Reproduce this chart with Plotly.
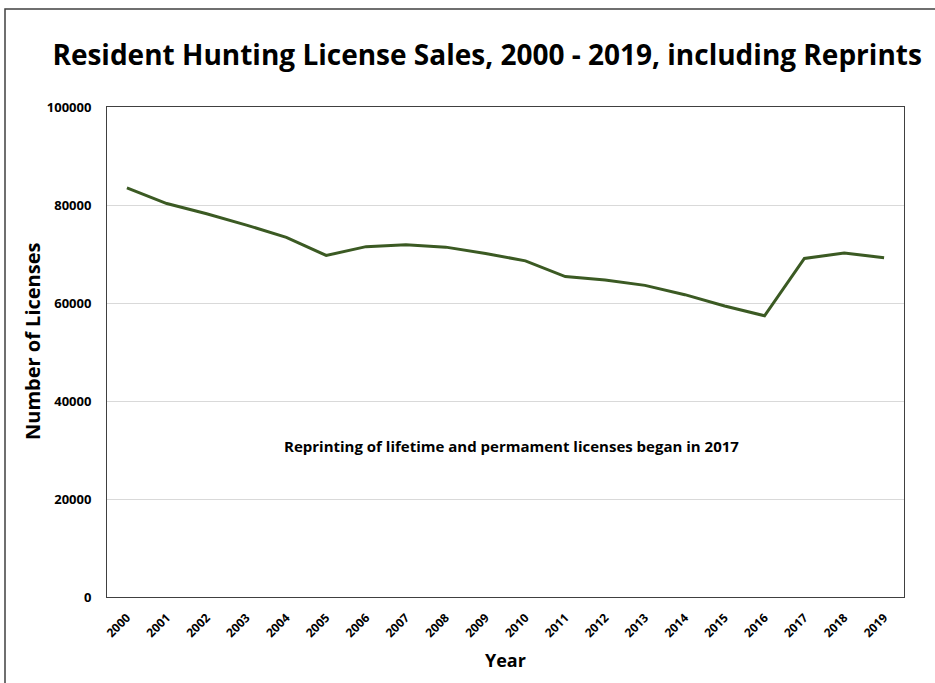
import plotly.graph_objects as go

years = [str(y) for y in range(2000, 2020)]
licenses = [83500, 80300, 78200, 75900, 73400, 69700, 71500, 71900, 71400, 70100,
            68600, 65400, 64700, 63600, 61700, 59400, 57400, 69100, 70200, 69250]
y_ticks = [0, 20000, 40000, 60000, 80000, 100000]

FONT = "Open Sans"

fig = go.Figure()
fig.add_trace(go.Scatter(
    x=years, y=licenses, mode="lines",
    line=dict(color="#3b5a23", width=3),
    hoverinfo="x+y", showlegend=False,
))

fig.update_layout(
    width=935, height=683,
    margin=dict(l=107, r=31, t=107, b=86),
    paper_bgcolor="white", plot_bgcolor="white",
    font=dict(family=FONT, color="black"),
    title=dict(
        text="<b>Resident Hunting License Sales, 2000 - 2019, including Reprints</b>",
        x=0.521, xref="container", xanchor="center",
        y=1 - 55 / 683, yref="container", yanchor="middle",
        font=dict(size=28, family=FONT, color="black"),
    ),
    xaxis=dict(
        type="category", tickangle=-45, range=[-0.5, 19.5],
        tickfont=dict(size=12, family=FONT, color="black", weight="bold"),
        showgrid=False, showline=True, linecolor="#404040", linewidth=1,
        mirror=True, ticks="", ticklabelstandoff=8,
    ),
    yaxis=dict(
        range=[0, 100000], tickvals=y_ticks, tickformat="d",
        tickfont=dict(size=13, family=FONT, color="black", weight="bold"),
        showgrid=True, gridcolor="#d9d9d9", gridwidth=1,
        showline=True, linecolor="#404040", linewidth=1, mirror=True,
        zeroline=False, ticks="", ticklabelstandoff=12,
    ),
    annotations=[
        dict(text="<b>Reprinting of lifetime and permament licenses began in 2017</b>",
             x=(511 - 107) / 797, xref="paper", y=30800, yref="y",
             showarrow=False, font=dict(size=15, family=FONT, color="black")),
        dict(text="<b>Number of Licenses</b>", textangle=-90,
             x=(32 - 107) / 797, xref="paper", y=(597 - 341) / 490, yref="paper",
             xanchor="center", yanchor="middle",
             showarrow=False, font=dict(size=20, family=FONT, color="black")),
        dict(text="<b>Year</b>",
             x=(505 - 107) / 797, xref="paper", y=(597 - 660) / 490, yref="paper",
             xanchor="center", yanchor="middle",
             showarrow=False, font=dict(size=18, family=FONT, color="black")),
    ],
    shapes=[
        dict(type="rect", xref="paper", yref="paper",
             x0=(5 - 107) / 797, x1=(940 - 107) / 797,
             y0=(597 - 700) / 490, y1=(597 - 9) / 490,
             line=dict(color="#404040", width=1.5), fillcolor="rgba(0,0,0,0)",
             layer="below"),
    ],
)

fig.write_html("out.html")
